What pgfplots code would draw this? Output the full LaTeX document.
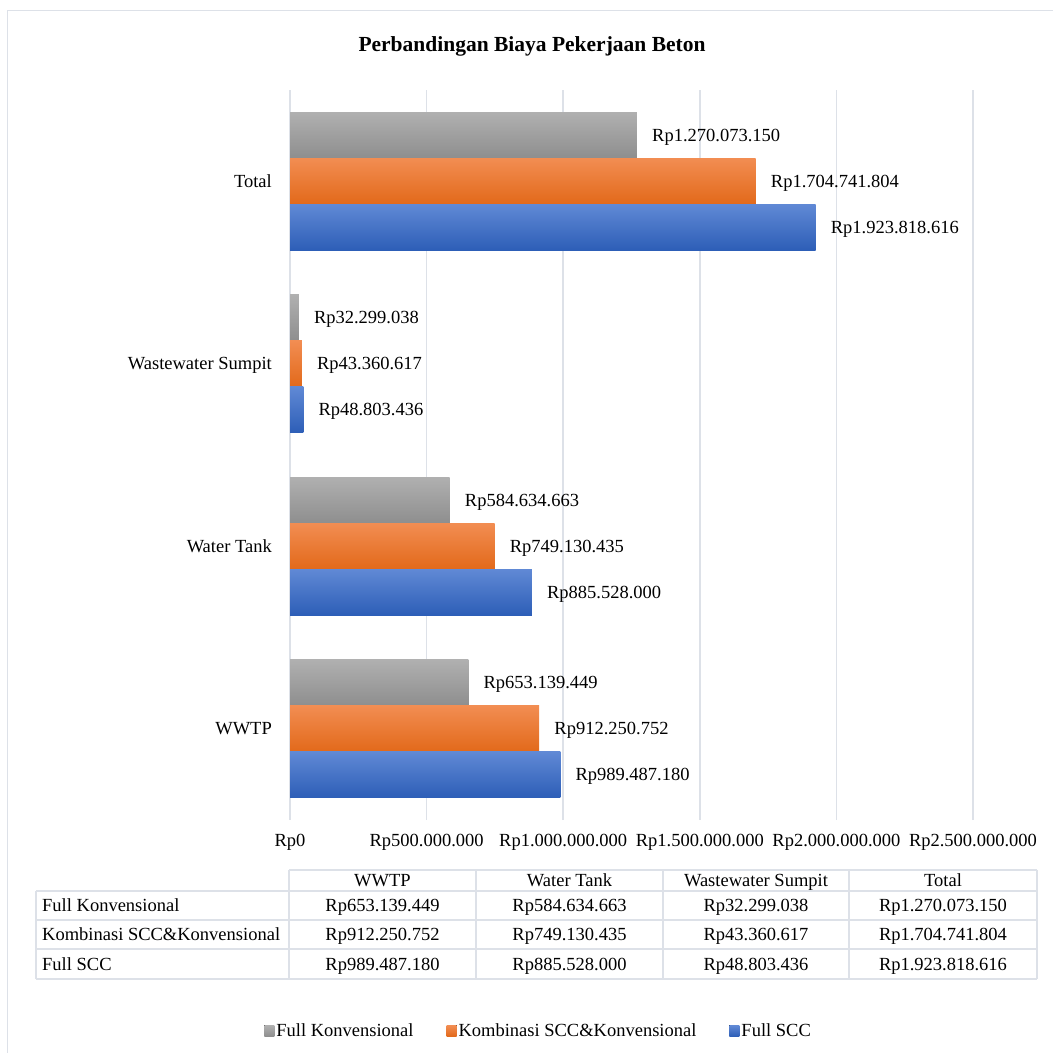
\documentclass[border=0pt]{standalone}
\usepackage{pgfplots}
\pgfplotsset{compat=1.18}
\usepackage{fontspec}
\setmainfont{Liberation Serif}
\definecolor{gridc}{HTML}{DDE1E8}
\definecolor{grayT}{HTML}{B0B0B0}
\definecolor{grayB}{HTML}{8E8E8E}
\definecolor{orT}{HTML}{F28D52}
\definecolor{orB}{HTML}{E2691A}
\definecolor{blT}{HTML}{6089D5}
\definecolor{blB}{HTML}{2D5EB7}
\newcommand{\lbl}{\fontsize{18.5}{22}\selectfont}
\tikzset{tcell/.style={font=\lbl, inner sep=0pt, text height=12.3pt, text depth=0pt}}
\pgfplotsset{
 gbar/.style={xbar, bar shift=0.252, draw=none, top color=grayT, bottom color=grayB},
 obar/.style={xbar, bar shift=0, draw=none, top color=orT, bottom color=orB},
 bbar/.style={xbar, bar shift=-0.252, draw=none, top color=blT, bottom color=blB},
}
\begin{document}
\begin{tikzpicture}[x=1pt,y=1pt]
\path[use as bounding box] (0,0) rectangle (1053,1053);
\draw[gridc, line width=1.5pt] (7.5,0) -- (7.5,1042.5) -- (1053,1042.5);
\node[anchor=base, font=\fontsize{21.5}{26}\selectfont\bfseries] at (532,1001) {Perbandingan Biaya Pekerjaan Beton};
\begin{axis}[
 at={(290pt,233pt)}, anchor=south west,
 scale only axis, width=683pt, height=730pt,
 xmin=0, xmax=2500000000, ymin=-0.5, ymax=3.5,
 xbar, bar width=0.252,
 axis line style={draw=none},
 major tick length=0pt,
 scaled x ticks=false,
 xtick={0,500000000,1000000000,1500000000,2000000000,2500000000},
 xticklabels={Rp0,Rp500.000.000,Rp1.000.000.000,Rp1.500.000.000,Rp2.000.000.000,Rp2.500.000.000},
 ytick={0,1,2,3}, yticklabels={WWTP,Water Tank,Wastewater Sumpit,Total},
 xmajorgrids, grid style={gridc, line width=1.5pt},
 /pgf/number format/assume math mode=true,
 tick label style={font=\lbl, inner sep=0pt, text height=12.3pt, text depth=0pt},
 xticklabel style={anchor=north, yshift=-14pt},
 yticklabel style={anchor=east, xshift=-18pt},
 point meta=explicit symbolic,
 nodes near coords,
 every node near coord/.append style={font=\lbl, anchor=west, inner sep=0pt, xshift=15pt, text height=12.3pt, text depth=0pt, black},
 legend columns=3,
 legend style={draw=none, fill=none, at={(0.364,-0.289)}, anchor=center, font=\lbl,
   /tikz/every even column/.append style={column sep=31pt}},
 legend image code/.code={\fill[#1] (0pt,-5.5pt) rectangle (10pt,5.5pt);},
]
% WWTP (carry the legend entries)
\addplot[gbar] coordinates {(653139449,0) [Rp653.139.449]};
\addplot[obar] coordinates {(912250752,0) [Rp912.250.752]};
\addplot[bbar] coordinates {(989487180,0) [Rp989.487.180]};
% Water Tank
\addplot[gbar, forget plot] coordinates {(584634663,1) [Rp584.634.663]};
\addplot[obar, forget plot] coordinates {(749130435,1) [Rp749.130.435]};
\addplot[bbar, forget plot] coordinates {(885528000,1) [Rp885.528.000]};
% Wastewater Sumpit
\addplot[gbar, forget plot] coordinates {(32299038,2) [Rp32.299.038]};
\addplot[obar, forget plot] coordinates {(43360617,2) [Rp43.360.617]};
\addplot[bbar, forget plot] coordinates {(48803436,2) [Rp48.803.436]};
% Total
\addplot[gbar, forget plot] coordinates {(1270073150,3) [Rp1.270.073.150]};
\addplot[obar, forget plot] coordinates {(1704741804,3) [Rp1.704.741.804]};
\addplot[bbar, forget plot] coordinates {(1923818616,3) [Rp1.923.818.616]};
\legend{Full Konvensional, Kombinasi SCC\&Konvensional, Full SCC}
\end{axis}
% data table
\draw[gridc, line width=1.5pt] (289,183) -- (1037,183);
\foreach \yy in {162,133,104,74} {\draw[gridc, line width=1.5pt] (36,\yy) -- (1037,\yy);}
\draw[gridc, line width=1.5pt] (36,162) -- (36,74);
\foreach \xx in {289,476,663,849,1037} {\draw[gridc, line width=1.5pt] (\xx,183) -- (\xx,74);}
\node[tcell] at (382.5,172.5) {WWTP};
\node[tcell] at (569.5,172.5) {Water Tank};
\node[tcell] at (756,172.5) {Wastewater Sumpit};
\node[tcell] at (943,172.5) {Total};
\node[tcell, anchor=west] at (42,147.5) {Full Konvensional};
\node[tcell, anchor=west] at (42,118.5) {Kombinasi SCC\&Konvensional};
\node[tcell, anchor=west] at (42,89) {Full SCC};
\node[tcell] at (382.5,147.5) {Rp653.139.449};
\node[tcell] at (569.5,147.5) {Rp584.634.663};
\node[tcell] at (756,147.5) {Rp32.299.038};
\node[tcell] at (943,147.5) {Rp1.270.073.150};
\node[tcell] at (382.5,118.5) {Rp912.250.752};
\node[tcell] at (569.5,118.5) {Rp749.130.435};
\node[tcell] at (756,118.5) {Rp43.360.617};
\node[tcell] at (943,118.5) {Rp1.704.741.804};
\node[tcell] at (382.5,89) {Rp989.487.180};
\node[tcell] at (569.5,89) {Rp885.528.000};
\node[tcell] at (756,89) {Rp48.803.436};
\node[tcell] at (943,89) {Rp1.923.818.616};
\end{tikzpicture}
\end{document}
